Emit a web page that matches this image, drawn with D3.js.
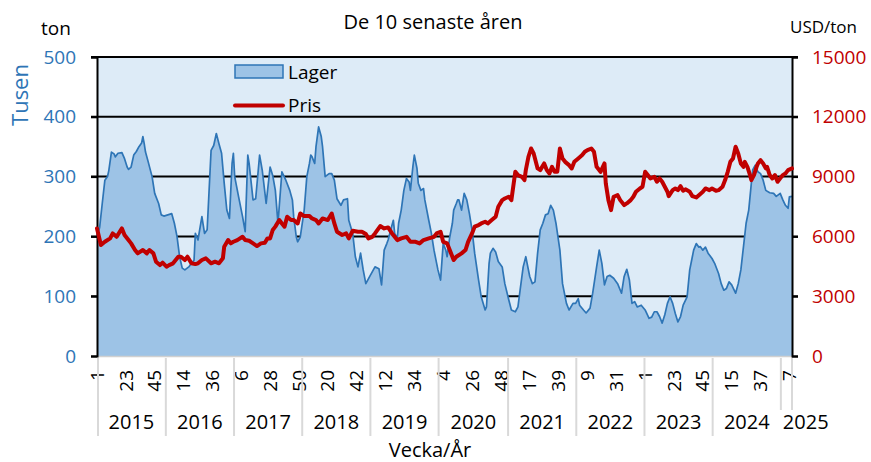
<!DOCTYPE html>
<html>
<head>
<meta charset="utf-8">
<script src="https://cdn.jsdelivr.net/npm/d3@7"></script>
<style>
  body { margin: 0; background: #fff; }
  svg text { font-family: "Open Sans", "Noto Sans", sans-serif; }
</style>
</head>
<body>
<div id="chart"></div>
<script>
var svgWidth = 871;
var svgHeight = 462;

// kategorier: år och antal veckor per år (2025 t.o.m. vecka 9)
var years = ["2015", "2016", "2017", "2018", "2019", "2020", "2021", "2022", "2023", "2024", "2025"];
var weeksPerYear = [53, 52, 52, 52, 52, 53, 52, 52, 52, 52, 9];

var leftTicks = [0, 100, 200, 300, 400, 500];
var rightTicks = [0, 3000, 6000, 9000, 12000, 15000];

// Lager (tusen ton): [veckoindex, värde]
var lagerData = [
  [0,200],[2,215],[4,255],[6,294],[8,300],[9,310],[11,341],[13,338],[14,333],[16,339],[19,340],[21,330],
  [23,316],[24,312],[26,316],[28,336],[30,342],[32,350],[34,356],[35,367],[36,355],[37,341],[39,325],
  [42,300],[44,272],[47,255],[49,236],[51,234],[54,236],[57,238],[59,222],[61,200],[63,166],[65,147],
  [67,144],[70,149],[72,155],[74,160],[75,205],[77,194],[80,233],[82,205],[84,211],[87,344],[89,352],
  [91,372],[93,355],[95,339],[97,289],[99,244],[101,230],[103,322],[104,339],[105,300],[108,266],
  [111,233],[113,208],[115,336],[116,322],[119,261],[121,263],[124,336],[126,311],[129,255],[132,316],
  [134,302],[136,277],[138,222],[141,308],[144,294],[147,277],[149,261],[150,233],[152,199],[153,191],
  [155,199],[158,244],[160,300],[162,322],[163,336],[164,333],[166,322],[167,350],[169,383],[171,367],
  [172,350],[174,300],[177,305],[179,305],[181,294],[183,263],[186,252],[188,261],[191,263],[192,227],
  [195,205],[197,166],[199,149],[201,172],[203,144],[205,121],[208,133],[212,149],[215,146],[217,119],
  [219,177],[221,188],[222,194],[224,211],[226,227],[227,205],[229,197],[230,222],[232,244],[234,277],
  [236,297],[238,291],[239,277],[241,319],[242,336],[244,314],[245,289],[247,277],[249,280],[250,261],
  [253,227],[255,205],[257,177],[259,155],[260,144],[262,127],[264,188],[266,177],[267,166],[269,199],
  [271,222],[272,244],[274,255],[275,261],[276,261],[278,244],[280,272],[282,261],[284,238],[286,211],
  [288,172],[291,127],[293,99],[296,77],[297,82],[299,155],[300,172],[302,180],[304,174],[306,158],
  [309,149],[311,121],[314,94],[316,77],[319,74],[321,82],[323,116],[325,149],[327,166],[328,155],
  [330,133],[332,121],[334,124],[336,172],[338,211],[340,222],[342,236],[344,238],[346,252],[348,244],
  [350,222],[353,177],[355,121],[358,88],[360,77],[363,88],[365,88],[367,96],[368,85],[371,77],[373,72],
  [376,80],[378,105],[381,149],[383,177],[385,155],[387,119],[389,133],[391,135],[394,130],[397,121],
  [400,105],[402,133],[404,145],[406,127],[408,88],[410,91],[412,82],[415,85],[418,77],[421,63],
  [423,65],[425,74],[427,74],[429,66],[431,55],[433,69],[435,88],[437,99],[439,88],[441,71],[443,57],
  [445,66],[447,85],[450,99],[452,144],[454,166],[455,177],[457,188],[459,182],[460,183],[462,177],
  [464,182],[466,172],[469,163],[471,155],[474,138],[476,121],[478,110],[480,113],[482,124],[484,119],
  [487,105],[489,121],[491,144],[493,183],[495,222],[497,244],[499,289],[500,311],[502,319],[504,308],
  [506,305],[508,294],[510,277],[513,273],[516,272],[518,267],[521,272],[523,261],[525,252],[527,247],
  [528,266],[530,267]
];

// Pris (USD/ton): [veckoindex, värde]
var prisData = [
  [0,6400],[3,5565],[6,5730],[10,5900],[12,6150],[15,5980],[19,6400],[21,6070],[24,5820],[26,5650],
  [29,5315],[31,5150],[35,5315],[38,5150],[40,5315],[43,5150],[45,4730],[48,4560],[50,4680],[53,4480],
  [55,4560],[58,4650],[62,4980],[64,4980],[67,4815],[69,4980],[72,4650],[75,4610],[77,4650],[80,4815],
  [83,4900],[87,4650],[90,4730],[93,4650],[96,4900],[97,5480],[100,5815],[102,5650],[104,5730],
  [107,5815],[111,5980],[113,5815],[116,5780],[119,5650],[122,5515],[125,5650],[128,5680],[130,5900],
  [132,5900],[134,6320],[136,6490],[139,6820],[141,6650],[143,6490],[145,6990],[148,6820],[150,6820],
  [153,6650],[155,7150],[158,7020],[162,7020],[164,6900],[167,6820],[169,6650],[172,6900],[176,6820],
  [179,7150],[181,6650],[183,6235],[187,6070],[190,6150],[192,5900],[195,6285],[199,6235],[202,6235],
  [205,6120],[207,5900],[210,5980],[212,6150],[216,6520],[219,6400],[222,6450],[225,6150],[229,5815],
  [232,5900],[236,5980],[239,5730],[243,5730],[246,5650],[249,5815],[253,5900],[257,5980],[259,6150],
  [262,6235],[264,5730],[267,5650],[269,5315],[272,4815],[274,4980],[278,5150],[281,5315],[283,5730],
  [286,6150],[288,6490],[291,6570],[293,6650],[296,6735],[298,6650],[301,6820],[304,6990],[306,7490],
  [309,7820],[311,7900],[314,7990],[316,7820],[319,9240],[321,9075],[324,8990],[326,8825],[327,9325],
  [329,9990],[331,10410],[333,10160],[336,9410],[338,9325],[341,9660],[343,9325],[345,9160],[347,9490],
  [349,9240],[351,9240],[353,10410],[355,9910],[357,9740],[360,9575],[362,9410],[364,9740],[367,9910],
  [370,10080],[372,10245],[374,10330],[377,10410],[379,10245],[381,9490],[384,9240],[387,9660],
  [388,8660],[390,7820],[392,7320],[394,7990],[397,8070],[399,7820],[402,7570],[404,7655],[407,7820],
  [409,7990],[411,8240],[414,8405],[416,8490],[418,9240],[420,9075],[422,8910],[425,8990],[427,8740],
  [429,8910],[431,8740],[433,8490],[435,8240],[436,8020],[439,8320],[441,8405],[443,8320],[445,8520],
  [447,8290],[449,8360],[452,8240],[454,8020],[457,7955],[459,8070],[462,8240],[464,8405],[467,8320],
  [469,8405],[472,8290],[474,8320],[477,8490],[479,8825],[481,9240],[483,9740],[485,9910],[487,10495],
  [489,10160],[491,9660],[493,9490],[494,9740],[496,9490],[498,9075],[499,8825],[501,9075],[503,9490],
  [504,9660],[506,9825],[508,9660],[510,9410],[511,9490],[513,9075],[515,8910],[517,9075],[519,8740],
  [521,8910],[523,9075],[525,9160],[527,9325],[530,9410]
];

var margin = { top: 57, right: 79, bottom: 106, left: 97 };
var width = svgWidth - margin.left - margin.right;
var height = svgHeight - margin.top - margin.bottom;

var blue = "#2e75b6";
var red = "#c00000";

// veckonummer för varje kategori
var weekNo = [];
var yearStart = [];
years.forEach(function(y, k) {
  yearStart.push(weekNo.length);
  for (var w = 1; w <= weeksPerYear[k]; w++) weekNo.push(w);
});
var nWeeks = weekNo.length;

var svg = d3.select("#chart")
  .append("svg")
  .attr("width", svgWidth)
  .attr("height", svgHeight);

var chartGroup = svg.append("g")
  .attr("transform", `translate(${margin.left}, ${margin.top})`);

var xScale = d3.scaleLinear().domain([0, nWeeks - 1]).range([0, width]);
var yLeft = d3.scaleLinear().domain([0, 500]).range([height, 0]);
var yRight = d3.scaleLinear().domain([0, 15000]).range([height, 0]);

// bakgrund
chartGroup.append("rect")
  .attr("width", width)
  .attr("height", height)
  .attr("fill", "#ddebf7");

// stödlinjer
chartGroup.selectAll(".grid")
  .data(leftTicks.slice(1))
  .enter()
  .append("line")
  .attr("x1", -6)
  .attr("x2", width + 6)
  .attr("y1", d => yLeft(d))
  .attr("y2", d => yLeft(d))
  .attr("stroke", "#000")
  .attr("stroke-width", 2);

// lager som yta
var area = d3.area()
  .x(d => xScale(d[0]))
  .y0(height)
  .y1(d => yLeft(d[1]));

chartGroup.append("path")
  .datum(lagerData)
  .attr("d", area)
  .attr("fill", "#9dc3e6");

chartGroup.append("path")
  .datum(lagerData)
  .attr("d", d3.line().x(d => xScale(d[0])).y(d => yLeft(d[1])))
  .attr("fill", "none")
  .attr("stroke", blue)
  .attr("stroke-width", 1.7)
  .attr("stroke-linejoin", "round");

// x-axelns linje
chartGroup.append("line")
  .attr("x1", 0).attr("x2", width)
  .attr("y1", height + 0.5).attr("y2", height + 0.5)
  .attr("stroke", "#d0d0d0")
  .attr("stroke-width", 1.5);

// y-axlar
var leftAxis = d3.axisLeft(yLeft).tickValues(leftTicks).tickSize(6).tickFormat("");
var rightAxis = d3.axisRight(yRight).tickValues(rightTicks).tickSize(6).tickFormat("");

var gl = chartGroup.append("g").call(leftAxis);
var gr = chartGroup.append("g").attr("transform", `translate(${width}, 0)`).call(rightAxis);
[gl, gr].forEach(function(g) {
  g.select(".domain").attr("stroke", "#000").attr("stroke-width", 2);
  g.selectAll(".tick line").attr("stroke", "#000").attr("stroke-width", 2);
});

chartGroup.selectAll(".ltxt")
  .data(leftTicks)
  .enter()
  .append("text")
  .attr("x", -21)
  .attr("y", d => yLeft(d))
  .attr("dy", "0.35em")
  .attr("text-anchor", "end")
  .attr("fill", blue)
  .style("font-size", "19px")
  .text(d => d);

chartGroup.selectAll(".rtxt")
  .data(rightTicks)
  .enter()
  .append("text")
  .attr("x", width + 20)
  .attr("y", d => yRight(d))
  .attr("dy", "0.35em")
  .attr("fill", red)
  .style("font-size", "19px")
  .text(d => d);

// pris som linje
chartGroup.append("path")
  .datum(prisData)
  .attr("d", d3.line().x(d => xScale(d[0])).y(d => yRight(d[1])))
  .attr("fill", "none")
  .attr("stroke", red)
  .attr("stroke-width", 4)
  .attr("stroke-linejoin", "round")
  .attr("stroke-linecap", "round");

// x-etiketter: vecka var 22:a kategori
var tickIdx = d3.range(0, nWeeks, 22);
chartGroup.selectAll(".wk")
  .data(tickIdx)
  .enter()
  .append("text")
  .attr("transform", d => `translate(${xScale(d)}, ${height + 14}) rotate(-90)`)
  .attr("dy", "0.35em")
  .attr("text-anchor", "end")
  .style("font-size", "19px")
  .text(d => weekNo[d]);

// årsavgränsare
var bounds = yearStart.map(s => s === 0 ? 0 : s - 0.5).concat([nWeeks - 1]);
chartGroup.selectAll(".sep")
  .data(bounds)
  .enter()
  .append("line")
  .attr("x1", d => xScale(d) + (d === 0 ? 1 : 0))
  .attr("x2", d => xScale(d) + (d === 0 ? 1 : 0))
  .attr("y1", height + 2)
  .attr("y2", (d, k) => k >= years.length - 1 ? height + 54 : height + 80)
  .attr("stroke", "#d9d9d9")
  .attr("stroke-width", 2);

chartGroup.selectAll(".yr")
  .data(years)
  .enter()
  .append("text")
  .attr("x", (d, k) => k === years.length - 1 ? xScale(bounds[k]) + 2 : (xScale(bounds[k]) + xScale(bounds[k + 1])) / 2)
  .attr("y", height + 73)
  .attr("text-anchor", (d, k) => k === years.length - 1 ? "start" : "middle")
  .style("font-size", "20px")
  .text(d => d);

// legend
var legend = chartGroup.append("g");
legend.append("rect")
  .attr("x", 138).attr("y", 8)
  .attr("width", 48).attr("height", 13)
  .attr("fill", "#9dc3e6")
  .attr("stroke", blue)
  .attr("stroke-width", 1.5);
legend.append("text")
  .attr("x", 191).attr("y", 22)
  .style("font-size", "19px")
  .text("Lager");
legend.append("line")
  .attr("x1", 138).attr("x2", 186)
  .attr("y1", 48.5).attr("y2", 48.5)
  .attr("stroke", red)
  .attr("stroke-width", 4)
  .attr("stroke-linecap", "round");
legend.append("text")
  .attr("x", 191).attr("y", 55)
  .style("font-size", "19px")
  .text("Pris");

// titlar och axeltexter
svg.append("text")
  .attr("x", 433).attr("y", 29)
  .attr("text-anchor", "middle")
  .style("font-size", "20px")
  .text("De 10 senaste åren");

svg.append("text")
  .attr("x", 41).attr("y", 35)
  .style("font-size", "19px")
  .text("ton");

svg.append("text")
  .attr("x", 857).attr("y", 33)
  .attr("text-anchor", "end")
  .style("font-size", "17px")
  .text("USD/ton");

svg.append("text")
  .attr("transform", "translate(28, 95) rotate(-90)")
  .attr("text-anchor", "middle")
  .attr("fill", blue)
  .style("font-size", "22px")
  .text("Tusen");

svg.append("text")
  .attr("x", 430).attr("y", 457)
  .attr("text-anchor", "middle")
  .style("font-size", "20px")
  .text("Vecka/År");
</script>
</body>
</html>
